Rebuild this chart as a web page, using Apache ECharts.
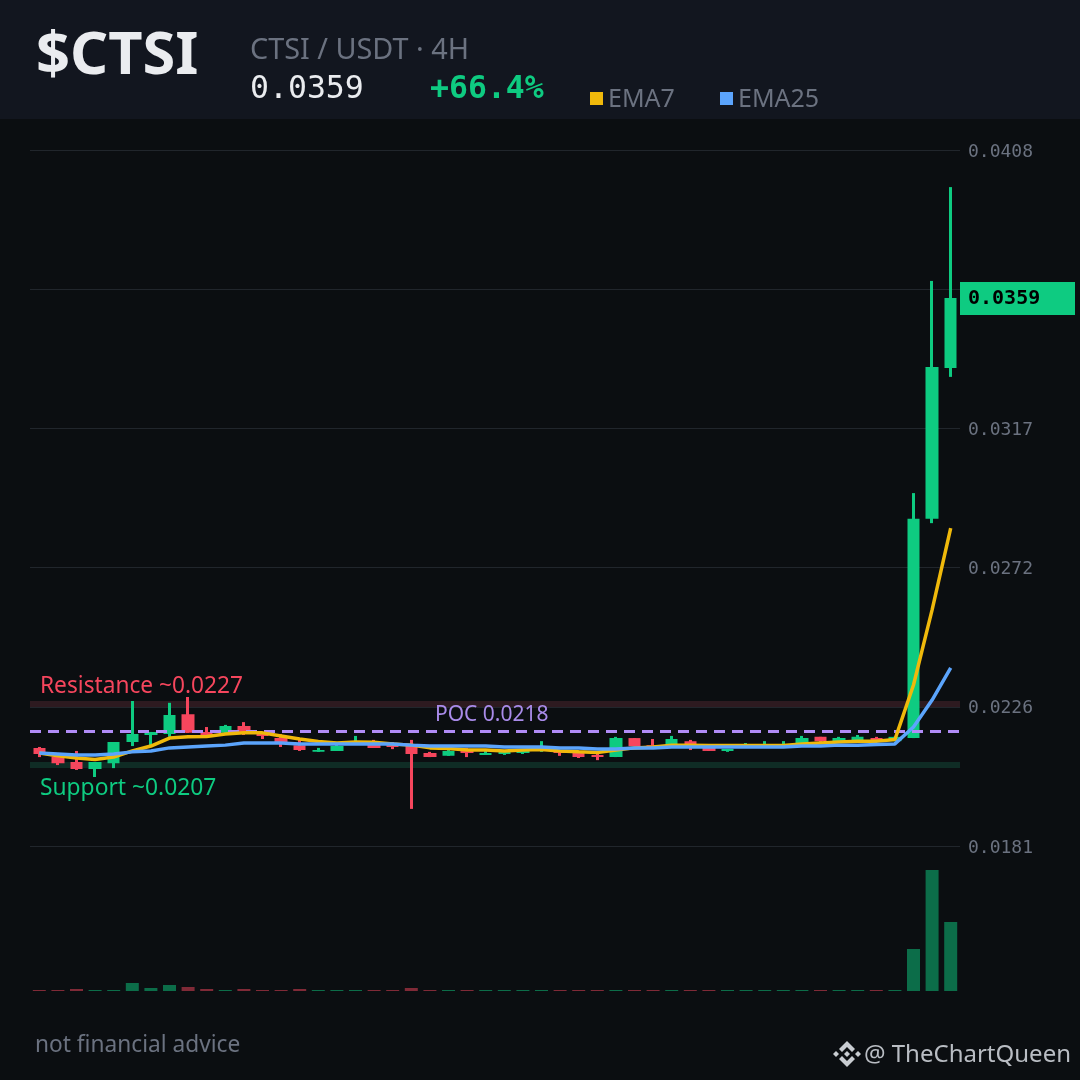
<!DOCTYPE html>
<html>
<head>
<meta charset="utf-8">
<style>html,body{margin:0;padding:0;background:#0b0e11;}#c{width:1080px;height:1080px;}</style>
<script src="https://cdn.jsdelivr.net/npm/echarts@6/dist/echarts.min.js"></script>
</head>
<body>
<div id="c"></div>
<script>
const opens =[.02130,.02102,.02084,.02061,.02080,.02149,.02172,.02175,.02240,.02182,.02179,.02201,.02182,.02162,.02139,.02117,.02120,.02143,.02146,.02139,.02143,.02113,.02104,.02120,.02107,.02110,.02113,.02123,.02120,.02113,.02107,.02100,.02162,.02139,.02139,.02152,.02133,.02120,.02133,.02133,.02133,.02143,.02166,.02149,.02152,.02162,.02152,.02162,.02877,.03369];
const closes=[.02110,.02080,.02061,.02084,.02149,.02175,.02182,.02237,.02179,.02172,.02201,.02182,.02169,.02149,.02123,.02123,.02136,.02152,.02130,.02133,.02110,.02100,.02120,.02113,.02113,.02117,.02120,.02126,.02113,.02100,.02100,.02162,.02136,.02133,.02159,.02136,.02120,.02126,.02136,.02136,.02136,.02162,.02152,.02162,.02166,.02151,.02166,.02877,.03372,.03597];
const lows  =[.02100,.02074,.02058,.02035,.02064,.02136,.02139,.02166,.02179,.02172,.02179,.02172,.02159,.02133,.02120,.02117,.02120,.02143,.02130,.02126,.01931,.02100,.02104,.02100,.02107,.02107,.02110,.02117,.02104,.02097,.02090,.02100,.02136,.02133,.02139,.02123,.02120,.02117,.02133,.02133,.02133,.02143,.02149,.02149,.02152,.02151,.02152,.02162,.02863,.03340];
const highs =[.02133,.02104,.02120,.02084,.02149,.02283,.02182,.02277,.02296,.02198,.02205,.02214,.02182,.02175,.02162,.02130,.02139,.02169,.02156,.02149,.02156,.02117,.02123,.02130,.02120,.02117,.02120,.02152,.02120,.02113,.02117,.02166,.02162,.02159,.02169,.02156,.02133,.02126,.02146,.02152,.02152,.02169,.02166,.02166,.02172,.02166,.02166,.02961,.03653,.03959];
const volumes=[1,1,2,1,1,8,3,6,4,2,1,2,1,1,2,1,1,1,1,1,3,1,1,1,1,1,1,1,1,1,1,1,1,1,1,1,1,1,1,1,1,1,1,1,1,1,1,42,121,69];
const ema7 =[.02113,.02104,.02097,.02092,.02100,.02120,.02136,.02162,.02166,.02167,.02175,.02179,.02179,.02169,.02159,.02151,.02146,.02149,.02148,.02143,.02139,.02130,.02128,.02123,.02123,.02120,.02123,.02125,.02120,.02117,.02115,.02123,.02130,.02133,.02139,.02139,.02138,.02138,.02138,.02138,.02138,.02143,.02146,.02149,.02152,.02152,.02157,.02335,.02580,.02847];
const ema25=[.02113,.02110,.02107,.02107,.02110,.02117,.02120,.02130,.02133,.02136,.02139,.02146,.02146,.02146,.02143,.02143,.02143,.02143,.02143,.02143,.02139,.02136,.02136,.02136,.02136,.02133,.02133,.02133,.02130,.02130,.02126,.02126,.02130,.02130,.02133,.02133,.02133,.02133,.02133,.02133,.02133,.02136,.02136,.02139,.02139,.02141,.02143,.02198,.02286,.02391];
const categories=opens.map((_,i)=>String(i+1));
const yTicks=[.0181,.02264,.02718,.03172,.03626,.0408];
const resistanceBand=[.02263,.02283];
const supportBand=[.02064,.02084];
const pocPrice=.02185;
const lastPriceText='0.0359';
const changeText='+66.4%';

const UP='#0ecb81',DOWN='#f6465d',GRAY='#6b7280';
const ohlc=opens.map((o,i)=>[o,closes[i],lows[i],highs[i]]);
const xCommon={type:'category',data:categories,axisLine:{show:false},axisTick:{show:false},axisLabel:{show:false},splitLine:{show:false}};
const sans='"Noto Sans"',mono='"DejaVu Sans Mono"';
function txt(x,y,text,size,fill,font,weight,align){
  return {type:'text',z:50,style:{x,y,text,fontSize:size,fill,fontFamily:font||sans,fontWeight:weight||'normal',align:align||'left',verticalAlign:'middle'}};
}
function poly(points){return {type:'polygon',z:50,shape:{points},style:{fill:'#c9cdd2'}};}
const graphics=[
  {type:'rect',z:1,shape:{x:0,y:0,width:1080,height:119},style:{fill:'#12161f'}},
  txt(36,57,'$CTSI',59.5,'#eaecef',sans,'bold'),
  txt(250,51,'CTSI / USDT · 4H',28.8,GRAY),
  txt(250,90,lastPriceText,31.5,'#eaecef',mono),
  txt(430,90,changeText,31.5,UP,mono,'bold'),
  {type:'rect',z:50,shape:{x:590,y:92,width:13,height:13},style:{fill:'#f0b90b'}},
  txt(608,100,'EMA7',25,GRAY),
  {type:'rect',z:50,shape:{x:720,y:92,width:13,height:13},style:{fill:'#5ba4fc'}},
  txt(738,100,'EMA25',25,GRAY),
  txt(40,687,'Resistance ~0.0227',22.7,DOWN),
  txt(40,789,'Support ~0.0207',22.8,UP),
  txt(435,715,'POC 0.0218',21,'#a98bea'),
  {type:'rect',z:50,shape:{x:960,y:282,width:115,height:33},style:{fill:UP}},
  txt(968,299,lastPriceText,20,'#000000',mono,'bold'),
  txt(35,1046,'not financial advice',22.7,GRAY),
  txt(1071,1055,'@ TheChartQueen',24,'#b9bdc3',sans,'normal','right'),
  poly([[847,1041],[855,1049],[852,1052],[847,1047],[842,1052],[839,1049]]),
  poly([[847,1067],[855,1059],[852,1056],[847,1061],[842,1056],[839,1059]]),
  poly([[847,1051],[850,1054],[847,1057],[844,1054]]),
  poly([[836,1051],[839,1054],[836,1057],[833,1054]]),
  poly([[858,1051],[861,1054],[858,1057],[855,1054]])
];
const chart=echarts.init(document.getElementById('c'),null,{renderer:'canvas'});
chart.setOption({
  animation:false,
  backgroundColor:'#0b0e11',
  grid:[
    {left:30,width:930,top:150,height:696},
    {left:30,width:930,top:870,height:121}
  ],
  xAxis:[{...xCommon,gridIndex:0},{...xCommon,gridIndex:1}],
  yAxis:[
    {gridIndex:0,type:'value',position:'right',min:yTicks[0],max:yTicks[5],
     axisLine:{show:false},axisTick:{show:false,customValues:yTicks},
     axisLabel:{customValues:yTicks,margin:8,color:GRAY,fontFamily:mono,fontSize:18,verticalAlign:'top',lineHeight:4,formatter:v=>Number(v).toFixed(4)},
     splitLine:{show:true,lineStyle:{color:'#21262c',width:1}}},
    {gridIndex:1,type:'value',min:0,max:121,show:false,splitLine:{show:false}}
  ],
  graphic:graphics,
  series:[
    {name:'Levels',type:'line',xAxisIndex:0,yAxisIndex:0,data:[],z:2,showSymbol:false,
     markArea:{silent:true,itemStyle:{opacity:1},data:[
       [{yAxis:resistanceBand[0],itemStyle:{color:'#2d1a20'}},{yAxis:resistanceBand[1]}],
       [{yAxis:supportBand[0],itemStyle:{color:'#0f2c25'}},{yAxis:supportBand[1]}]
     ]},
     markLine:{silent:true,symbol:'none',precision:5,label:{show:false},
       lineStyle:{color:'#b18cf7',width:3,type:[11,7]},data:[{yAxis:pocPrice}]}},
    {name:'Wicks',type:'candlestick',xAxisIndex:0,yAxisIndex:0,data:ohlc,barWidth:1,z:3,
     itemStyle:{color:UP,color0:DOWN,borderColor:UP,borderColor0:DOWN,borderWidth:3}},
    {name:'Bodies',type:'candlestick',xAxisIndex:0,yAxisIndex:0,data:ohlc,barWidth:13,z:4,
     itemStyle:{color:UP,color0:DOWN,borderColor:UP,borderColor0:DOWN,borderWidth:0}},
    {name:'EMA7',type:'line',xAxisIndex:0,yAxisIndex:0,data:ema7,showSymbol:false,z:5,lineStyle:{color:'#f0b90b',width:3.5}},
    {name:'EMA25',type:'line',xAxisIndex:0,yAxisIndex:0,data:ema25,showSymbol:false,z:6,lineStyle:{color:'#5ba4fc',width:3.5}},
    {name:'Volume',type:'bar',xAxisIndex:1,yAxisIndex:1,barWidth:13,
     data:volumes.map((v,i)=>({value:v,itemStyle:{color:closes[i]>=opens[i]?UP:DOWN,opacity:.5}}))}
  ]
});
</script>
</body>
</html>
